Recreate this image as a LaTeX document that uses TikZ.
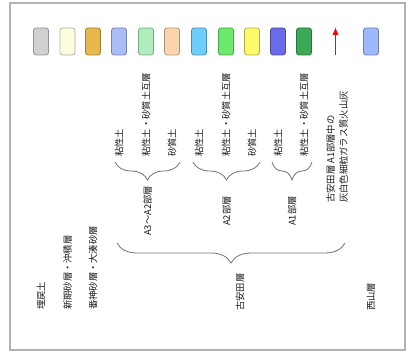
\documentclass[tikz,border=0pt]{standalone}
\usepackage{fontspec}
\setmainfont{Noto Sans CJK JP}
\usepackage{tikz}
\usetikzlibrary{decorations.pathreplacing,arrows.meta}
\definecolor{fillsoil}{HTML}{D0D0D0}
\definecolor{newsand}{HTML}{FDFDE0}
\definecolor{banjin}{HTML}{E8B84C}
\definecolor{clayA}{HTML}{A9BDF6}
\definecolor{mixA}{HTML}{AEEEBE}
\definecolor{sandA}{HTML}{FBD4AE}
\definecolor{clayB}{HTML}{6FCDFB}
\definecolor{mixB}{HTML}{6CEA6C}
\definecolor{sandB}{HTML}{FAFA6A}
\definecolor{clayC}{HTML}{6B6BE8}
\definecolor{mixC}{HTML}{3AA857}
\definecolor{nishiyama}{HTML}{9DB8FB}
\newcommand{\legendbox}[3]{
	\node[legend, fill=#3, draw=#3!70!black] (#1) at (#2,41.5) {};
}

\begin{document}
\begin{tikzpicture}[x=1pt,y=-1pt,
	legend/.style={rectangle, rounded corners=2.5pt, line width=0.8pt,
		minimum width=15pt, minimum height=27pt, inner sep=0pt},
	vlabel/.style={rotate=90, inner sep=0pt, text=black!90,
		font=\fontsize{9.3pt}{13pt}\selectfont},
	groupbrace/.style={decorate, draw=black!55, line width=0.8pt,
		decoration={brace, amplitude=#1}},
	groupbrace/.default=18pt]
	\useasboundingbox (0,0) rectangle (409,358);
	\draw[black!30, line width=1.6pt] (10,3) rectangle (405,350);

	\legendbox{boxFill}{41}{fillsoil}
	\legendbox{boxNew}{67.5}{newsand}
	\legendbox{boxBanjin}{93}{banjin}
	\legendbox{boxClayA}{119}{clayA}
	\legendbox{boxMixA}{146}{mixA}
	\legendbox{boxSandA}{172}{sandA}
	\legendbox{boxClayB}{199}{clayB}
	\legendbox{boxMixB}{226}{mixB}
	\legendbox{boxSandB}{252}{sandB}
	\legendbox{boxClayC}{278}{clayC}
	\legendbox{boxMixC}{304}{mixC}
	\legendbox{boxNishiyama}{371}{nishiyama}

	\coordinate (ashBase) at (335.5,55);
	\coordinate (ashTip) at (335.5,27);
	\draw[red, line width=1.4pt, -{Latex[length=8pt,width=6.5pt]}] (ashBase) -- (ashTip);

	% labels under the boxes
	\node[vlabel, anchor=west] (lblFill) at (41,310) {埋戻土};
	\node[vlabel, anchor=west] (lblNew) at (67.5,310) {新期砂層・沖積層};
	\node[vlabel, anchor=west] (lblBanjin) at (93,310) {番神砂層・大湊砂層};

	\node[vlabel, anchor=west] (lblClayA) at (119,157) {粘性土};
	\node[vlabel, anchor=west] (lblMixA) at (146,157) {粘性土・砂質土互層};
	\node[vlabel, anchor=west] (lblSandA) at (172,157) {砂質土};
	\node[vlabel, anchor=west] (lblClayB) at (199,157) {粘性土};
	\node[vlabel, anchor=west] (lblMixB) at (226,157) {粘性土・砂質土互層};
	\node[vlabel, anchor=west] (lblSandB) at (252,157) {砂質土};
	\node[vlabel, anchor=west] (lblClayC) at (278,157) {粘性土};
	\node[vlabel, anchor=west] (lblMixC) at (304,157) {粘性土・砂質土互層};

	\node[vlabel, anchor=west, align=left] (lblAsh) at (337,203)
		{古安田層 A1部層中の\\灰白色細粒ガラス質火山灰};

	% member braces
	\coordinate (memAl) at (115,162);
	\coordinate (memAr) at (180,162);
	\coordinate (memBl) at (193,162);
	\coordinate (memBr) at (260,162);
	\coordinate (memCl) at (272,162);
	\coordinate (memCr) at (312,162);
	\draw[groupbrace] (memAr) -- (memAl);
	\draw[groupbrace] (memBr) -- (memBl);
	\draw[groupbrace] (memCr) -- (memCl);

	\node[vlabel] (lblMemA) at (147.5,211) {A3～A2部層};
	\node[vlabel] (lblMemB) at (226.5,211) {A2部層};
	\node[vlabel] (lblMemC) at (292,211) {A1部層};

	% formation brace
	\coordinate (furuL) at (117,243);
	\coordinate (furuR) at (345,243);
	\draw[groupbrace=20pt] (furuR) -- (furuL);

	\node[vlabel, anchor=west] (lblFuru) at (240,311) {古安田層};
	\node[vlabel, anchor=west] (lblNishiyama) at (371,311) {西山層};
\end{tikzpicture}
\end{document}
